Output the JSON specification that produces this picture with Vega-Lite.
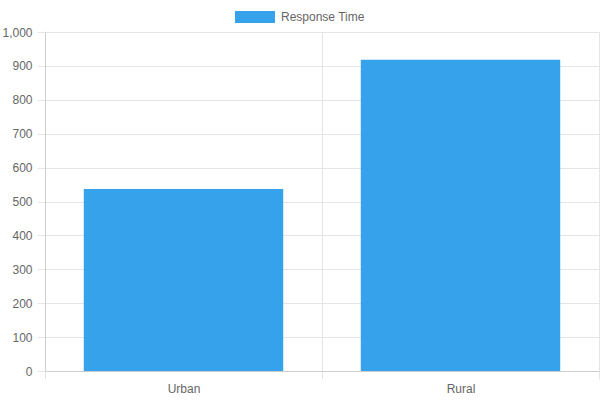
{
  "$schema": "https://vega.github.io/schema/vega-lite/v6.json",
  "autosize": {"type": "none"},
  "padding": {"left": 45, "top": 32, "right": 1, "bottom": 29},
  "width": 554,
  "height": 339,
  "config": {
    "view": {"stroke": null},
    "font": "Liberation Sans",
    "axis": {
      "labelFont": "Liberation Sans",
      "labelFontSize": 12,
      "labelColor": "#666666",
      "gridColor": "#e5e5e5",
      "tickColor": "#e5e5e5",
      "domainColor": "#cccccc",
      "tickSize": 8,
      "labelPadding": 5,
      "title": null
    }
  },
  "data": {
    "values": [
      {"area": "Urban", "value": 537, "series": "Response Time"},
      {"area": "Rural", "value": 918, "series": "Response Time"}
    ]
  },
  "mark": {"type": "bar", "width": {"band": 0.72}},
  "encoding": {
    "x": {
      "field": "area",
      "type": "nominal",
      "sort": ["Urban", "Rural"],
      "scale": {"paddingInner": 0, "paddingOuter": 0},
      "axis": {"labelAngle": 0, "grid": true, "tickBand": "extent", "labelPadding": 4}
    },
    "y": {
      "field": "value",
      "type": "quantitative",
      "scale": {"domain": [0, 1000], "nice": false},
      "axis": {"values": [0, 100, 200, 300, 400, 500, 600, 700, 800, 900, 1000], "format": ",.0f", "grid": true}
    },
    "color": {
      "field": "series",
      "type": "nominal",
      "scale": {"range": ["#36a2eb"]},
      "legend": {
        "orient": "none",
        "legendX": 190,
        "legendY": -35,
        "title": null,
        "symbolType": "M-1,-0.3H1V0.3H-1Z",
        "symbolSize": 1600,
        "symbolStrokeWidth": 0,
        "symbolOpacity": 1,
        "labelFont": "Liberation Sans",
        "labelFontSize": 12,
        "labelColor": "#666666",
        "labelOffset": 6,
        "padding": 0
      }
    }
  }
}
